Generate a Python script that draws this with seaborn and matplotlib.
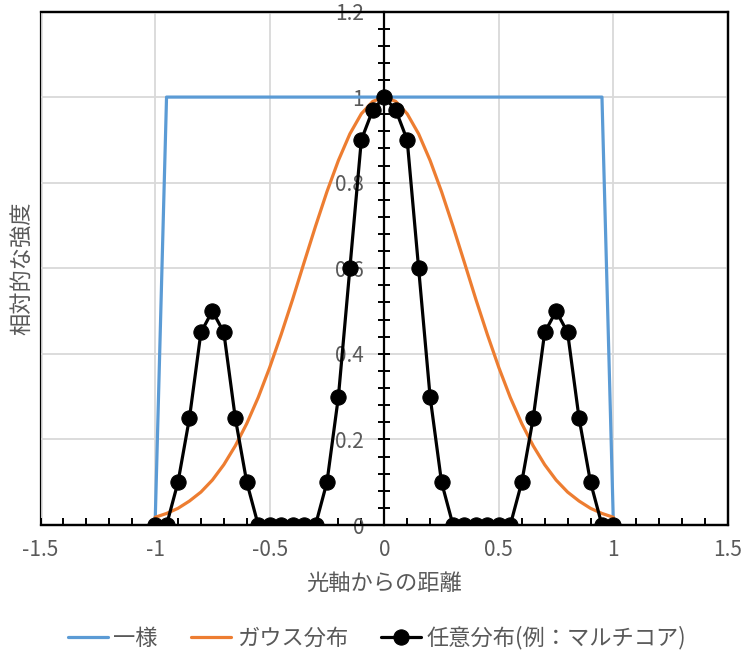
import numpy as np
import pandas as pd
import seaborn as sns
import matplotlib
matplotlib.use("Agg")
import matplotlib.pyplot as plt
from matplotlib.ticker import FixedLocator, FixedFormatter, MultipleLocator

# 一様分布
uniform_x = [-1.0, -0.95, 0.95, 1.0]
uniform_y = [0.0, 1.0, 1.0, 0.0]

# ガウス分布 (0.05刻み, 図から読み取り)
gauss_x = [-1.0, -0.95, -0.9, -0.85, -0.8, -0.75, -0.7, -0.65, -0.6, -0.55, -0.5,
           -0.45, -0.4, -0.35, -0.3, -0.25, -0.2, -0.15, -0.1, -0.05, 0.0,
           0.05, 0.1, 0.15, 0.2, 0.25, 0.3, 0.35, 0.4, 0.45, 0.5,
           0.55, 0.6, 0.65, 0.7, 0.75, 0.8, 0.85, 0.9, 0.95, 1.0]
gauss_y = [0.018, 0.027, 0.039, 0.056, 0.077, 0.105, 0.141, 0.185, 0.237, 0.298, 0.368,
           0.445, 0.527, 0.613, 0.698, 0.779, 0.852, 0.914, 0.961, 0.990, 1.0,
           0.990, 0.961, 0.914, 0.852, 0.779, 0.698, 0.613, 0.527, 0.445, 0.368,
           0.298, 0.237, 0.185, 0.141, 0.105, 0.077, 0.056, 0.039, 0.027, 0.018]

# 任意分布(マルチコア)
multi_x = gauss_x
multi_y = [0.0, 0.0, 0.1, 0.25, 0.45, 0.5, 0.45, 0.25, 0.1, 0.0, 0.0,
           0.0, 0.0, 0.0, 0.0, 0.1, 0.3, 0.6, 0.9, 0.97, 1.0,
           0.97, 0.9, 0.6, 0.3, 0.1, 0.0, 0.0, 0.0, 0.0, 0.0,
           0.0, 0.1, 0.25, 0.45, 0.5, 0.45, 0.25, 0.1, 0.0, 0.0]

x_ticks = [-1.5, -1.0, -0.5, 0.0, 0.5, 1.0, 1.5]
x_tick_labels = ["-1.5", "-1", "-0.5", "0", "0.5", "1", "1.5"]
y_ticks = [0.0, 0.2, 0.4, 0.6, 0.8, 1.0, 1.2]
y_tick_labels = ["0", "0.2", "0.4", "0.6", "0.8", "1", "1.2"]

labels = ["一様", "ガウス分布", "任意分布(例：マルチコア)"]

sns.set_theme(style="white")
plt.rcParams['font.family'] = ['Noto Sans CJK JP', 'DejaVu Sans']
plt.rcParams['axes.unicode_minus'] = False

text_col = '#595959'

fig = plt.figure(figsize=(7.54, 6.63), dpi=100)
ax = fig.add_axes([40.5/754, 1-525/663, (728-40.5)/754, (525-11.5)/663])

df_u = pd.DataFrame({'x': uniform_x, 'y': uniform_y})
df_g = pd.DataFrame({'x': gauss_x, 'y': gauss_y})
df_m = pd.DataFrame({'x': multi_x, 'y': multi_y})

sns.lineplot(data=df_u, x='x', y='y', ax=ax, color='#5B9BD5', lw=2.3,
             estimator=None, label=labels[0], legend=False)
sns.lineplot(data=df_g, x='x', y='y', ax=ax, color='#ED7D31', lw=2.3,
             estimator=None, label=labels[1], legend=False)
sns.lineplot(data=df_m, x='x', y='y', ax=ax, color='black', lw=2.3,
             marker='o', markersize=11, markeredgecolor='black',
             estimator=None, label=labels[2], legend=False)

ax.set_xlim(-1.5, 1.5)
ax.set_ylim(0, 1.2)
ax.set_xlabel('')
ax.set_ylabel('')

# grid
ax.grid(True, which='major', color='#D9D9D9', lw=1.3)
ax.set_axisbelow(True)

# frame
for s in ['top', 'right', 'bottom']:
    ax.spines[s].set_visible(True)
    ax.spines[s].set_color('black')
    ax.spines[s].set_linewidth(1.6)
ax.patch.set_edgecolor('black')
ax.patch.set_linewidth(1.6)
ax.spines['left'].set_position(('data', 0))
ax.spines['left'].set_color('black')
ax.spines['left'].set_linewidth(1.6)

# ticks
ax.xaxis.set_major_locator(FixedLocator(x_ticks))
ax.xaxis.set_major_formatter(FixedFormatter(x_tick_labels))
ax.xaxis.set_minor_locator(MultipleLocator(0.1))
ax.yaxis.set_major_locator(FixedLocator(y_ticks))
ax.yaxis.set_major_formatter(FixedFormatter(y_tick_labels))
ax.yaxis.set_minor_locator(MultipleLocator(0.04))

ax.tick_params(axis='x', which='both', direction='in', length=5, width=1.4,
               color='black', bottom=True, top=False, labelsize=15,
               labelcolor=text_col, pad=10)
ax.tick_params(axis='y', which='both', direction='inout', length=9, width=1.4,
               color='black', left=True, right=False, labelsize=15,
               labelcolor=text_col, pad=10)

fig.text(22/754, 1-268/663, '相対的な強度', rotation=90, ha='center', va='center',
         fontsize=16, color=text_col)
fig.text(384/754, 1-583/663, '光軸からの距離', ha='center', va='center',
         fontsize=16, color=text_col)

handles, lbls = ax.get_legend_handles_labels()
fig.legend(handles, lbls, loc='center', bbox_to_anchor=(0.5, 1-638/663),
           ncol=3, frameon=False, fontsize=16, labelcolor=text_col,
           handlelength=1.8, handletextpad=0.25, columnspacing=1.5)

fig.savefig('out.png', dpi=100)
